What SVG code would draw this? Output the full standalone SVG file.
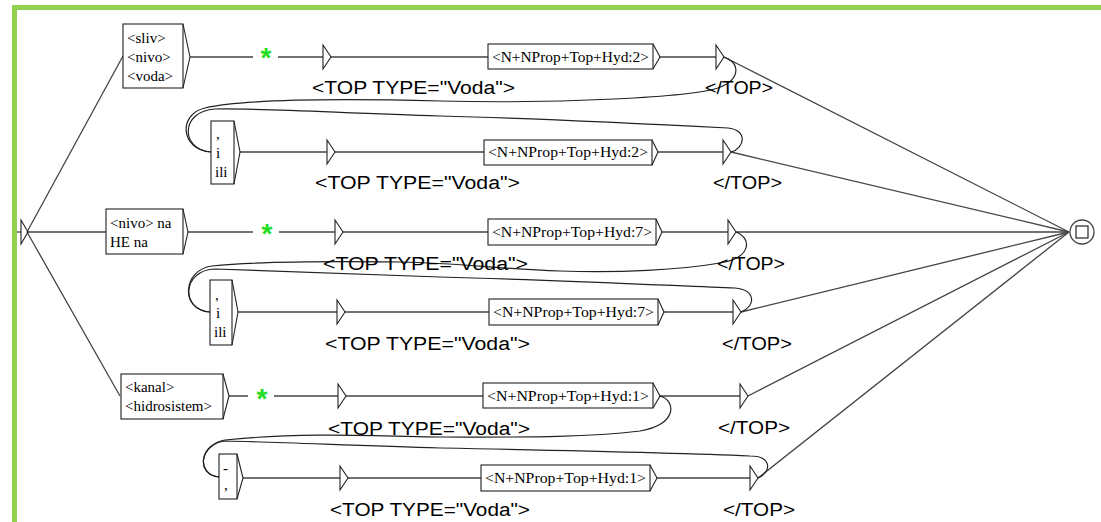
<svg xmlns="http://www.w3.org/2000/svg" width="1101" height="522" viewBox="0 0 1101 522">
<defs>
<style>
.bx{fill:#fff;stroke:#222;stroke-width:1.1}
.tip{fill:none;stroke:#222;stroke-width:1.1;stroke-linejoin:miter}
.ln{fill:none;stroke:#444;stroke-width:1.3}
.cv{fill:none;stroke:#222;stroke-width:1.2}
.st{font-family:"Liberation Serif","Times New Roman",serif;font-size:15px;fill:#000}
.lb{font-family:"Liberation Sans",Arial,sans-serif;font-size:18px;fill:#000}
.star{font-family:"Liberation Sans",Arial,sans-serif;font-size:28px;font-weight:bold;fill:#22dd22}
</style>
</defs>
<rect x="0" y="0" width="1101" height="522" fill="#fff"/>
<rect x="12" y="5" width="1089" height="5" fill="#92d050"/>
<rect x="12" y="5" width="5" height="517" fill="#92d050"/>

<g id="connectors">
<path class="ln" d="M17,232 H21"/>
<path class="ln" d="M27,232 L123,56 M27,232 H106 M27,232 L120,396"/>
<path class="ln" d="M190,57 H253 M278,57 H323 M331,57 H488 M660,57 H716 M724,57 L1069,232"/>
<path class="ln" d="M240,152 H327 M335,152 H484 M658,152 H723 M731,152 L1069,232"/>
<path class="ln" d="M188,232 H253 M279,232 H335 M343,232 H488 M662,232 H728 M736,232 H1069"/>
<path class="ln" d="M238,312 H337 M345,312 H489 M664,312 H733 M741,312 L1069,232"/>
<path class="ln" d="M229,396 H248 M274,396 H338 M346,396 H483 M660,396 H740 M748,396 L1069,232"/>
<path class="ln" d="M243,478 H340 M348,478 H481 M657,478 H750 M758,478 L1069,232"/>
<path class="cv" d="M723,57 C738,60 744,78 718,88 C692,97 560,104 440,101 C320,98 240,100 205,108 C178,114 180,150 211,152"/>
<path class="cv" d="M731,152 C745,148 748,130 728,128 C650,124 520,118 440,116 C340,113 260,108 215,109 C180,111 180,150 211,152"/>
<path class="cv" d="M736,232 C752,238 752,258 720,263 C680,270 620,273 560,271 C500,269 460,263 400,262 C320,261 250,262 212,266 C182,270 180,310 210,312"/>
<path class="cv" d="M741,312 C756,306 756,290 735,288 C680,286 560,280 440,277 C340,274 260,270 215,269 C182,270 180,310 210,312"/>
<path class="cv" d="M660,396 C676,400 678,425 640,431 C580,438 520,437 440,437 C380,436 300,432 225,440 C200,444 195,474 219,477"/>
<path class="cv" d="M758,478 C772,472 772,456 750,456 C680,453 540,450 440,448 C360,446 280,442 225,441 C200,444 195,474 219,477"/>
</g>

<g id="initial">
<path class="tip" d="M21,220 L28,232 L21,244 Z"/>
</g>

<g id="box-sliv">
<rect class="bx" x="123" y="24" width="60" height="64"/>
<path class="tip" d="M183,24 L190,57 L183,88"/>
<text class="st" x="127" y="43">&lt;sliv&gt;</text>
<text class="st" x="127" y="62">&lt;nivo&gt;</text>
<text class="st" x="127" y="81">&lt;voda&gt;</text>
</g>
<g id="star1"><text class="star" x="266" y="67" text-anchor="middle">*</text></g>
<g id="out1a"><path class="tip" d="M323,45 V69 L331,57 Z"/><text class="lb" x="312" y="94" textLength="203" lengthAdjust="spacingAndGlyphs">&lt;TOP TYPE="Voda"&gt;</text></g>
<g id="n1"><rect class="bx" x="488" y="44" width="165" height="25"/><path class="tip" d="M653,44 L660,57 L653,69"/><text class="st" x="492" y="62" textLength="157" lengthAdjust="spacingAndGlyphs">&lt;N+NProp+Top+Hyd:2&gt;</text></g>
<g id="out1b"><path class="tip" d="M716,45 V69 L724,57 Z"/><text class="lb" x="705" y="94" textLength="68" lengthAdjust="spacingAndGlyphs">&lt;/TOP&gt;</text></g>

<g id="box-ili1">
<rect class="bx" x="211" y="121" width="23" height="63"/>
<path class="tip" d="M234,121 L240,152 L234,184"/>
<text class="st" x="216" y="139">,</text>
<text class="st" x="216" y="158">i</text>
<text class="st" x="215" y="177">ili</text>
</g>
<g id="out2a"><path class="tip" d="M327,140 V164 L335,152 Z"/><text class="lb" x="315" y="189" textLength="205" lengthAdjust="spacingAndGlyphs">&lt;TOP TYPE="Voda"&gt;</text></g>
<g id="n2"><rect class="bx" x="484" y="140" width="168" height="25"/><path class="tip" d="M652,140 L658,152 L652,165"/><text class="st" x="488" y="157" textLength="160" lengthAdjust="spacingAndGlyphs">&lt;N+NProp+Top+Hyd:2&gt;</text></g>
<g id="out2b"><path class="tip" d="M723,140 V164 L731,152 Z"/><text class="lb" x="713" y="189" textLength="69" lengthAdjust="spacingAndGlyphs">&lt;/TOP&gt;</text></g>

<g id="box-nivo-na">
<rect class="bx" x="106" y="209" width="77" height="45"/>
<path class="tip" d="M183,209 L188,232 L183,254"/>
<text class="st" x="110" y="228">&lt;nivo&gt; na</text>
<text class="st" x="110" y="247">HE na</text>
</g>
<g id="star2"><text class="star" x="267" y="243" text-anchor="middle">*</text></g>
<g id="out3a"><path class="tip" d="M335,220 V244 L343,232 Z"/><text class="lb" x="323" y="270" textLength="205" lengthAdjust="spacingAndGlyphs">&lt;TOP TYPE="Voda"&gt;</text></g>
<g id="n3"><rect class="bx" x="488" y="219" width="168" height="26"/><path class="tip" d="M656,219 L662,232 L656,245"/><text class="st" x="492" y="237" textLength="160" lengthAdjust="spacingAndGlyphs">&lt;N+NProp+Top+Hyd:7&gt;</text></g>
<g id="out3b"><path class="tip" d="M728,220 V244 L736,232 Z"/><text class="lb" x="717" y="270" textLength="68" lengthAdjust="spacingAndGlyphs">&lt;/TOP&gt;</text></g>

<g id="box-ili2">
<rect class="bx" x="210" y="280" width="22" height="65"/>
<path class="tip" d="M232,280 L238,312 L232,345"/>
<text class="st" x="215" y="300">,</text>
<text class="st" x="216" y="318">i</text>
<text class="st" x="214" y="337">ili</text>
</g>
<g id="out4a"><path class="tip" d="M337,300 V324 L345,312 Z"/><text class="lb" x="325" y="350" textLength="205" lengthAdjust="spacingAndGlyphs">&lt;TOP TYPE="Voda"&gt;</text></g>
<g id="n4"><rect class="bx" x="489" y="299" width="169" height="26"/><path class="tip" d="M658,299 L664,312 L658,325"/><text class="st" x="493" y="317" textLength="161" lengthAdjust="spacingAndGlyphs">&lt;N+NProp+Top+Hyd:7&gt;</text></g>
<g id="out4b"><path class="tip" d="M733,300 V324 L741,312 Z"/><text class="lb" x="722" y="350" textLength="70" lengthAdjust="spacingAndGlyphs">&lt;/TOP&gt;</text></g>

<g id="box-kanal">
<rect class="bx" x="121" y="374" width="102" height="45"/>
<path class="tip" d="M223,374 L229,396 L223,419"/>
<text class="st" x="125" y="392">&lt;kanal&gt;</text>
<text class="st" x="125" y="411">&lt;hidrosistem&gt;</text>
</g>
<g id="star3"><text class="star" x="262" y="408" text-anchor="middle">*</text></g>
<g id="out5a"><path class="tip" d="M338,384 V408 L346,396 Z"/><text class="lb" x="328" y="435" textLength="202" lengthAdjust="spacingAndGlyphs">&lt;TOP TYPE="Voda"&gt;</text></g>
<g id="n5"><rect class="bx" x="483" y="383" width="170" height="25"/><path class="tip" d="M653,383 L660,396 L653,408"/><text class="st" x="487" y="401" textLength="162" lengthAdjust="spacingAndGlyphs">&lt;N+NProp+Top+Hyd:1&gt;</text></g>
<g id="out5b"><path class="tip" d="M740,384 V408 L748,396 Z"/><text class="lb" x="718" y="434" textLength="72" lengthAdjust="spacingAndGlyphs">&lt;/TOP&gt;</text></g>

<g id="box-dash">
<rect class="bx" x="219" y="454" width="18" height="45"/>
<path class="tip" d="M237,454 L243,478 L237,499"/>
<text class="st" x="223" y="473">-</text>
<text class="st" x="224" y="490">,</text>
</g>
<g id="out6a"><path class="tip" d="M340,466 V490 L348,478 Z"/><text class="lb" x="330" y="516" textLength="200" lengthAdjust="spacingAndGlyphs">&lt;TOP TYPE="Voda"&gt;</text></g>
<g id="n6"><rect class="bx" x="481" y="465" width="169" height="26"/><path class="tip" d="M650,465 L657,478 L650,491"/><text class="st" x="485" y="483" textLength="161" lengthAdjust="spacingAndGlyphs">&lt;N+NProp+Top+Hyd:1&gt;</text></g>
<g id="out6b"><path class="tip" d="M750,466 V490 L758,478 Z"/><text class="lb" x="723" y="516" textLength="72" lengthAdjust="spacingAndGlyphs">&lt;/TOP&gt;</text></g>

<g id="final">
<circle cx="1082" cy="232" r="12" fill="#fff" stroke="#444" stroke-width="1.3"/>
<rect x="1076" y="226" width="12" height="12" fill="none" stroke="#333" stroke-width="1.3"/>
</g>
</svg>
